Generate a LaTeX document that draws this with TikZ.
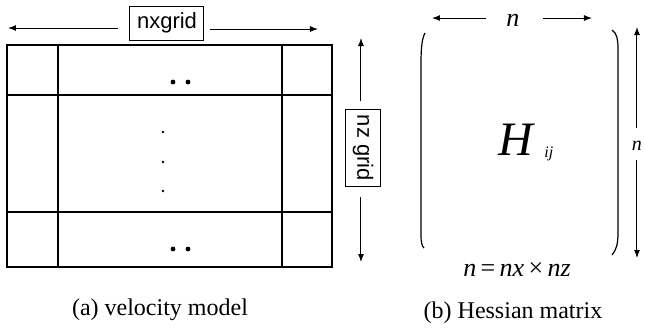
\documentclass[tikz,border=0pt]{standalone}
\usepackage{fontspec}
\setmainfont{Liberation Serif}
\setsansfont{Liberation Sans}
\usetikzlibrary{arrows.meta}
\begin{document}
\begin{tikzpicture}[x=0.5pt,y=-0.5pt,
  gridline/.style={line width=0.6pt},
  arr/.style={line width=0.5pt,-{Latex[length=4pt,width=3pt]}},
  labbox/.style={draw,line width=0.5pt,inner sep=0pt,font=\sffamily\fontsize{11}{12}\selectfont},
  caption/.style={inner sep=0pt,font=\fontsize{12}{14}\selectfont},
  mathtxt/.style={inner sep=0pt,font=\itshape\fontsize{13}{15}\selectfont}]
\useasboundingbox (0,0) rectangle (645,329);
% velocity model grid
\draw[gridline] (7,45) rectangle (332,267);
\draw[gridline] (58,45) -- (58,267);
\draw[gridline] (282,45) -- (282,267);
\draw[gridline] (7,95) -- (332,95);
\draw[gridline] (7,212) -- (332,212);
% dots
\fill (173,82) circle (1.2pt);
\fill (188,82) circle (1.2pt);
\fill (173,249) circle (1.2pt);
\fill (188,249) circle (1.2pt);
\fill (163,132) circle (0.7pt);
\fill (163,162) circle (0.7pt);
\fill (163,191) circle (0.7pt);
% nxgrid label and arrows
\node[labbox,minimum width=37pt,minimum height=17pt] (nx) at (167,23) {nxgrid};
\coordinate (nxL0) at (118,28);
\coordinate (nxL1) at (8,28);
\coordinate (nxR0) at (210,29);
\coordinate (nxR1) at (318,29);
\draw[arr] (nxL0) -- (nxL1);
\draw[arr] (nxR0) -- (nxR1);
% nz grid label and arrows
\node[labbox,rotate=-90,minimum width=38.5pt,minimum height=17.5pt] (nz) at (363,148) {nz grid};
\coordinate (nzU0) at (361,101);
\coordinate (nzU1) at (361,38);
\coordinate (nzD0) at (361,197);
\coordinate (nzD1) at (361,262);
\draw[arr] (nzU0) -- (nzU1);
\draw[arr] (nzD0) -- (nzD1);
\node[caption] (capa) at (160,310) {(a) velocity model};
% Hessian matrix
\draw[line width=0.6pt] (425,33) .. controls (421,40) and (421,55) .. (421,67) -- (421,235) .. controls (421,243) and (422,246) .. (424,248);
\draw[line width=0.6pt] (612,30) .. controls (617,33) and (618,40) .. (618,48) -- (618,233) .. controls (618,245) and (616,250) .. (612,255);
\node[mathtxt] (ntop) at (513,20) {n};
\coordinate (nL0) at (486,18);
\coordinate (nL1) at (432,18);
\coordinate (nR0) at (543,18);
\coordinate (nR1) at (592,18);
\draw[arr] (nL0) -- (nL1);
\draw[arr] (nR0) -- (nR1);
\node[inner sep=0pt,font=\itshape\fontsize{10}{12}\selectfont] (nside) at (637,146) {n};
\coordinate (sU0) at (637,128);
\coordinate (sU1) at (637,27);
\coordinate (sD0) at (637,160);
\coordinate (sD1) at (637,258);
\draw[arr] (sU0) -- (sU1);
\draw[arr] (sD0) -- (sD1);
\node[inner sep=0pt,anchor=base west,font=\itshape\fontsize{24}{26}\selectfont] (H) at (498,155) {H};
\node[inner sep=0pt,anchor=base west,font=\itshape\fontsize{8}{9}\selectfont] (ij) at (544,157) {ij};
\node[mathtxt] (neq) at (517,270) {n\,\upshape =\,\itshape nx\,\upshape ×\,\itshape nz};
\node[caption] (capb) at (513,313) {(b) Hessian matrix};
\end{tikzpicture}
\end{document}
